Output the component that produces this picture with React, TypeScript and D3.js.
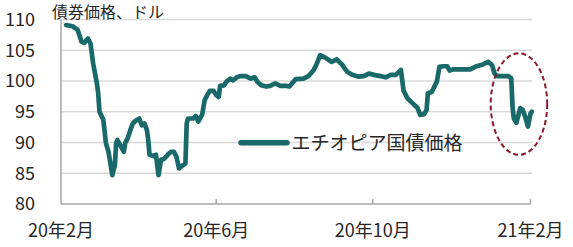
import React from "react";
import * as d3 from "d3";

const dates: string[] = [
  "2020-02-05","2020-02-10","2020-02-14","2020-02-17","2020-02-19","2020-02-22","2020-02-24","2020-02-26","2020-02-29","2020-03-01",
  "2020-03-02","2020-03-05","2020-03-07","2020-03-09","2020-03-12","2020-03-14","2020-03-15","2020-03-16","2020-03-18","2020-03-21",
  "2020-03-22","2020-03-24","2020-03-26","2020-03-28","2020-03-30","2020-04-02","2020-04-04","2020-04-06","2020-04-08","2020-04-09",
  "2020-04-10","2020-04-13","2020-04-15","2020-04-17","2020-04-19","2020-04-21","2020-04-23","2020-04-25","2020-04-27","2020-04-29",
  "2020-05-01","2020-05-03","2020-05-06","2020-05-08","2020-05-09","2020-05-10","2020-05-14","2020-05-16","2020-05-18","2020-05-21",
  "2020-05-23","2020-05-25","2020-05-27","2020-05-30","2020-06-01","2020-06-03","2020-06-04","2020-06-07","2020-06-09","2020-06-12",
  "2020-06-14","2020-06-17","2020-06-20","2020-06-24","2020-06-28","2020-07-01","2020-07-03","2020-07-06","2020-07-10","2020-07-13",
  "2020-07-17","2020-07-21","2020-07-26","2020-07-28","2020-08-02","2020-08-08","2020-08-12","2020-08-16","2020-08-18","2020-08-21",
  "2020-08-25","2020-08-30","2020-09-03","2020-09-07","2020-09-11","2020-09-15","2020-09-20","2020-09-24","2020-09-28","2020-10-02",
  "2020-10-07","2020-10-11","2020-10-15","2020-10-19","2020-10-23","2020-10-25","2020-10-28","2020-11-01","2020-11-05","2020-11-07",
  "2020-11-10","2020-11-12","2020-11-13","2020-11-16","2020-11-20","2020-11-22","2020-11-25","2020-11-28","2020-11-30","2020-12-03",
  "2020-12-16","2020-12-21","2020-12-26","2020-12-30","2021-01-02","2021-01-04","2021-01-06","2021-01-15","2021-01-17","2021-01-18",
  "2021-01-19","2021-01-21","2021-01-24","2021-01-26","2021-01-28","2021-01-30","2021-02-01","2021-02-02"
];

const prices: number[] = [
  109.1,108.9,108.3,106.4,106.2,106.9,106.1,102.9,99.6,98.0,
  95.0,93.7,89.9,88.5,84.7,86.3,89.9,90.4,89.6,88.5,
  89.9,90.7,92.0,93.1,93.5,93.9,92.8,93.1,92.0,90.4,
  88.0,87.8,88.0,84.7,87.2,87.3,87.7,88.2,88.5,88.5,
  87.7,85.8,86.3,86.6,93.1,93.9,93.9,94.3,93.4,94.5,
  96.9,97.7,98.4,98.4,97.7,97.4,99.2,99.3,99.9,100.4,
  100.1,100.6,100.8,100.8,100.4,100.6,99.9,99.3,99.1,99.2,
  99.6,99.2,99.2,99.1,100.3,100.4,100.8,101.8,102.6,104.2,
  103.8,103.1,103.5,102.7,101.5,101.0,100.7,100.8,101.2,101.0,
  100.8,100.6,101.0,101.0,101.8,98.5,97.2,96.4,95.6,94.5,
  94.6,95.3,98.0,98.2,99.9,102.3,102.4,102.4,101.7,101.9,
  101.9,102.4,102.7,103.1,102.6,101.2,100.8,100.8,100.4,95.8,
  93.9,93.2,95.6,95.3,94.1,92.6,94.7,95.0
];

const yTicks: number[] = [80, 85, 90, 95, 100, 105, 110];
const xTickDates: string[] = ["2020-02-01", "2020-06-01", "2020-10-01", "2021-02-01"];
const xTickLabels: string[] = ["20年2月", "20年6月", "20年10月", "21年2月"];
const yAxisTitle = "債券価格、ドル";
const seriesName = "エチオピア国債価格";
const highlightRange: string[] = ["2021-01-01", "2021-02-14"];
const highlightValues: number[] = [88, 104.5];

const W = 573;
const H = 247;
const FONT = "'Noto Sans CJK JP', 'Noto Sans', sans-serif";
const LINE = "#1a696a";

export default function App() {
  const parse = d3.utcParse("%Y-%m-%d");
  const x = d3
    .scaleUtc()
    .domain([parse("2020-02-01")!, parse("2021-02-01")!])
    .range([61, 530.5]);
  const y = d3.scaleLinear().domain([80, 110]).range([204, 19.5]);

  const data = dates.map((d, i) => ({ date: parse(d)!, v: prices[i] }));
  const line = d3
    .line<{ date: Date; v: number }>()
    .x((d) => x(d.date))
    .y((d) => y(d.v))
    .curve(d3.curveLinear);

  const hx0 = x(parse(highlightRange[0])!);
  const hx1 = x(parse(highlightRange[1])!);
  const hy0 = y(highlightValues[0]);
  const hy1 = y(highlightValues[1]);

  const [x0, x1] = x.range();

  return (
    <svg
      width={W}
      height={H}
      style={{ position: "absolute", left: 0, top: 0, background: "#fff" }}
      fontFamily={FONT}
    >
      {yTicks.map((t) => (
        <g key={t}>
          {t !== 80 && (
            <line x1={x0} x2={x1 + 1.5} y1={y(t)} y2={y(t)} stroke="#d9d9d9" strokeWidth={1.5} />
          )}
          <text x={35} y={y(t)} dy="0.36em" textAnchor="end" fontSize={18} fill="#262626">
            {t}
          </text>
        </g>
      ))}
      <line x1={x0} x2={x0} y1={y(110)} y2={y(80)} stroke="#a6a6a6" strokeWidth={1.5} />
      <line x1={x0} x2={x1} y1={y(80)} y2={y(80)} stroke="#a6a6a6" strokeWidth={1.5} />
      {xTickDates.map((d, i) => {
        const px = x(parse(d)!);
        return (
          <g key={d}>
            {i > 0 && <line x1={px} x2={px} y1={y(80) - 5} y2={y(80)} stroke="#a6a6a6" strokeWidth={1.5} />}
            <text x={px} y={236.5} textAnchor="middle" fontSize={18} fill="#262626">
              {xTickLabels[i]}
            </text>
          </g>
        );
      })}
      <text x={52} y={18} fontSize={16} fill="#262626">
        {yAxisTitle}
      </text>
      <path
        d={line(data) ?? ""}
        fill="none"
        stroke={LINE}
        strokeWidth={4.7}
        strokeLinejoin="round"
        strokeLinecap="round"
      />
      <ellipse
        cx={(hx0 + hx1) / 2}
        cy={(hy0 + hy1) / 2}
        rx={(hx1 - hx0) / 2}
        ry={(hy0 - hy1) / 2}
        fill="none"
        stroke="#8b1a2b"
        strokeWidth={2}
        strokeDasharray="5,3"
      />
      <line x1={241} x2={287} y1={142.7} y2={142.7} stroke={LINE} strokeWidth={5.5} strokeLinecap="round" />
      <text x={291.5} y={142.7} dy="0.36em" fontSize={19} fill="#262626">
        {seriesName}
      </text>
    </svg>
  );
}
